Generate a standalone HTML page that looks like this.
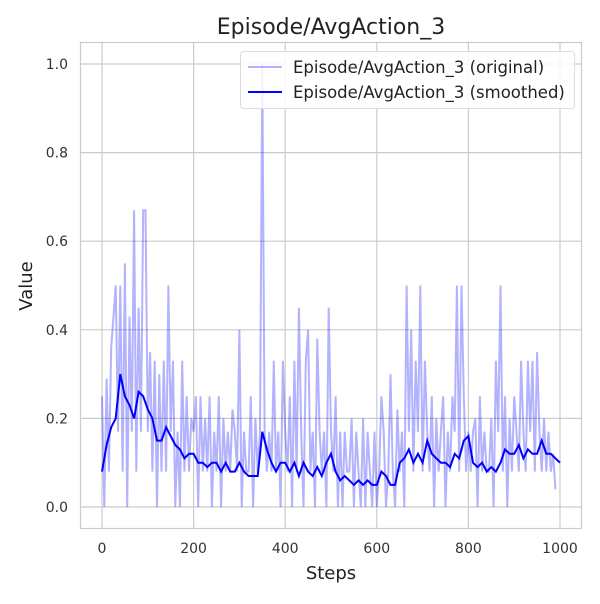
<!DOCTYPE html>
<html><head><meta charset="utf-8"><style>
body{margin:0;background:#fff;font-family:"DejaVu Sans","Liberation Sans",sans-serif}
</style></head><body>
<svg id="chart" width="600" height="600" xmlns="http://www.w3.org/2000/svg" font-family="DejaVu Sans, Liberation Sans, sans-serif">
<rect width="600" height="600" fill="#fff"/>
<g id="grid"></g>
<rect x="80.5" y="42.5" width="501" height="486" fill="none" stroke="#ccc" stroke-width="1.2"/>
<g id="series"></g>
<g id="ticks" font-size="14" fill="#333"></g>
<text x="331" y="34" text-anchor="middle" font-size="22" fill="#222">Episode/AvgAction_3</text>
<text x="331" y="579" text-anchor="middle" font-size="18" fill="#222">Steps</text>
<text transform="translate(32,286) rotate(-90)" text-anchor="middle" font-size="18" fill="#222">Value</text>
<g>
<rect x="240.5" y="51.5" width="334" height="57" rx="3" fill="#fff" fill-opacity="0.85" stroke="#ddd"/>
<line x1="248" y1="67" x2="282" y2="67" stroke="#0000ff" stroke-opacity="0.3" stroke-width="2"/>
<text x="293" y="73" font-size="16.5" fill="#222">Episode/AvgAction_3 (original)</text>
<line x1="248" y1="92" x2="282" y2="92" stroke="#0000ff" stroke-width="2"/>
<text x="293" y="98" font-size="16.5" fill="#222">Episode/AvgAction_3 (smoothed)</text>
</g>
</svg>
<script>
const xTicks=[0,200,400,600,800,1000];
const yTicks=[0.0,0.2,0.4,0.6,0.8,1.0];
const yTickLabels=["0.0","0.2","0.4","0.6","0.8","1.0"];
const origStep=5;
const original=[0.25,0,0.29,0.08,0.36,0.43,0.5,0.17,0.5,0.08,0.55,0,0.43,0.17,0.67,0.08,0.45,0.17,0.67,0.67,0.17,0.35,0.08,0.33,0,0.3,0.08,0.33,0.08,0.5,0.17,0.33,0,0.17,0,0.33,0.08,0.25,0.08,0.2,0.17,0.25,0,0.25,0.08,0.2,0.08,0.25,0,0.17,0.08,0.25,0,0.2,0.08,0.17,0.08,0.22,0.17,0.08,0.4,0,0.17,0.08,0.08,0.25,0,0.2,0.08,0.17,1.0,0.17,0.08,0.17,0.08,0.33,0.08,0.17,0,0.33,0.17,0.08,0.25,0,0.33,0.08,0.45,0.17,0,0.33,0.4,0.08,0.17,0,0.38,0.17,0.08,0.17,0,0.45,0.17,0.08,0.25,0,0.17,0,0.17,0.08,0.08,0.2,0,0.17,0.08,0,0.2,0,0.17,0.08,0,0.17,0,0.08,0.25,0.17,0,0.08,0.3,0.08,0,0.22,0.08,0.17,0,0.5,0.17,0.4,0.08,0.33,0.17,0.5,0.08,0.33,0.17,0.08,0.25,0,0.2,0.08,0.17,0.25,0,0.17,0.08,0.25,0.17,0.5,0.08,0.5,0.25,0.08,0.17,0.08,0.17,0.2,0,0.25,0.08,0.17,0.08,0.08,0.2,0,0.33,0.17,0.5,0.08,0.25,0,0.2,0.08,0.25,0.17,0.08,0.33,0.17,0.08,0.33,0.17,0.33,0.08,0.35,0.17,0.08,0.2,0.08,0.17,0.08,0.12,0.04];
const smoothStep=10;
const smoothed=[0.08,0.14,0.18,0.2,0.3,0.25,0.23,0.2,0.26,0.25,0.22,0.2,0.15,0.15,0.18,0.16,0.14,0.13,0.11,0.12,0.12,0.1,0.1,0.09,0.1,0.1,0.08,0.1,0.08,0.08,0.1,0.08,0.07,0.07,0.07,0.17,0.13,0.1,0.08,0.1,0.1,0.08,0.1,0.07,0.1,0.08,0.07,0.09,0.07,0.1,0.12,0.08,0.06,0.07,0.06,0.05,0.06,0.05,0.06,0.05,0.05,0.08,0.07,0.05,0.05,0.1,0.11,0.13,0.1,0.12,0.1,0.15,0.12,0.11,0.1,0.1,0.09,0.12,0.11,0.15,0.16,0.1,0.09,0.1,0.08,0.09,0.08,0.1,0.13,0.12,0.12,0.14,0.11,0.13,0.12,0.12,0.15,0.12,0.12,0.11,0.1];
const NS="http://www.w3.org/2000/svg";
const x=s=>102+s*0.458;
const y=v=>507-v*443;
const grid=document.getElementById('grid'),ticks=document.getElementById('ticks'),series=document.getElementById('series');
function mk(tag,attrs,parent){const e=document.createElementNS(NS,tag);for(const k in attrs)e.setAttribute(k,attrs[k]);parent.appendChild(e);return e;}
xTicks.forEach(t=>{
 const l=mk('line',{x1:x(t),x2:x(t),y1:42,y2:528,stroke:'#ccc','stroke-width':1.2},grid);
 
 
 const tx=mk('text',{x:x(t),y:553,'text-anchor':'middle'},ticks);
 tx.textContent=t;
 
 
});
yTicks.forEach((t,i)=>{
 const l=mk('line',{x1:80,x2:582,y1:y(t),y2:y(t),stroke:'#ccc','stroke-width':1.2},grid);
 
 
 const tx=mk('text',{x:68,y:y(t)+5,'text-anchor':'end'},ticks);
 tx.textContent=yTickLabels[i];
 
 
});
const p1=mk('path',{d:original.map((v,i)=>(i?'L':'M')+x(i*origStep).toFixed(1)+','+y(v).toFixed(1)).join(''),fill:'none',stroke:'#0000ff','stroke-opacity':0.3,'stroke-width':2},series);


const p2=mk('path',{d:smoothed.map((v,i)=>(i?'L':'M')+x(i*smoothStep).toFixed(1)+','+y(v).toFixed(1)).join(''),fill:'none',stroke:'#0000ff','stroke-width':2},series);


</script>
</body></html>
